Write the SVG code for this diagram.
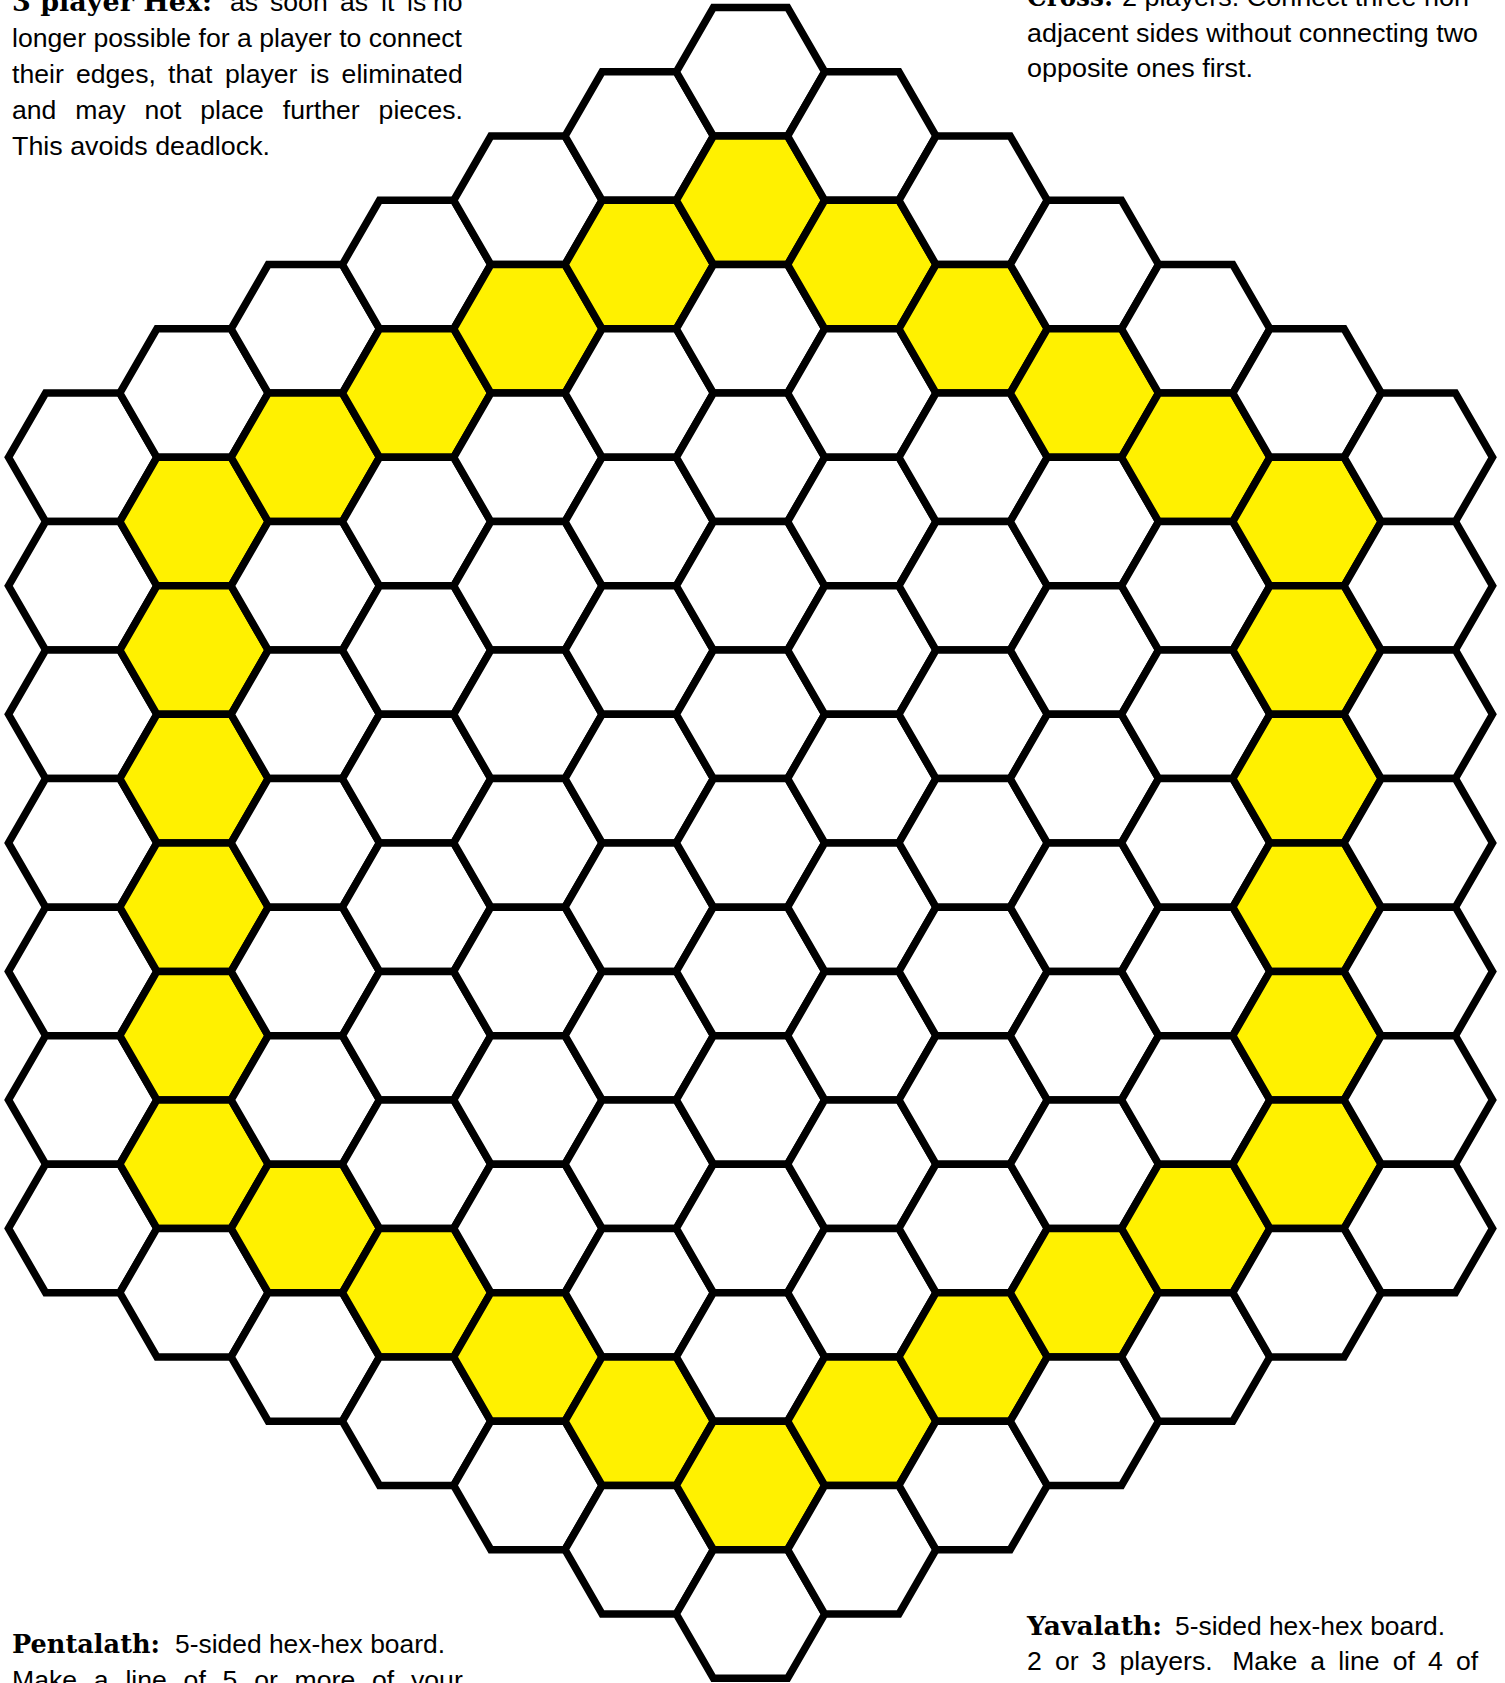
<svg xmlns="http://www.w3.org/2000/svg" xmlns:xlink="http://www.w3.org/1999/xlink" width="1505" height="1683" viewBox="0 0 1505 1683">
<style>
.c{fill:#fff;stroke:#000;stroke-width:7.5;stroke-linejoin:miter}
.y{fill:#fff100}
.t{font-family:"Liberation Sans",Arial,sans-serif;font-size:26.6px;fill:#000}
.b{font-family:"DejaVu Serif",serif;font-weight:bold;font-size:26.6px;fill:#000}
</style>
<defs>
<polygon id="hx" points="-74.2,0 -37.1,-64.26 37.1,-64.26 74.2,0 37.1,64.26 -37.1,64.26"/>
</defs>
<rect width="1505" height="1683" fill="#fff"/>
<g id="board">
<g id="col0" transform="translate(82.7,457.32)">
<use href="#hx" class="c" y="0"/><use href="#hx" class="c" y="128.52"/><use href="#hx" class="c" y="257.04"/><use href="#hx" class="c" y="385.56"/><use href="#hx" class="c" y="514.08"/><use href="#hx" class="c" y="642.6"/><use href="#hx" class="c" y="771.12"/>
</g>
<g id="col1" transform="translate(194,393.06)">
<use href="#hx" class="c" y="0"/><use href="#hx" class="c y" y="128.52"/><use href="#hx" class="c y" y="257.04"/><use href="#hx" class="c y" y="385.56"/><use href="#hx" class="c y" y="514.08"/><use href="#hx" class="c y" y="642.6"/><use href="#hx" class="c y" y="771.12"/><use href="#hx" class="c" y="899.64"/>
</g>
<g id="col2" transform="translate(305.3,328.8)">
<use href="#hx" class="c" y="0"/><use href="#hx" class="c y" y="128.52"/><use href="#hx" class="c" y="257.04"/><use href="#hx" class="c" y="385.56"/><use href="#hx" class="c" y="514.08"/><use href="#hx" class="c" y="642.6"/><use href="#hx" class="c" y="771.12"/><use href="#hx" class="c y" y="899.64"/><use href="#hx" class="c" y="1028.16"/>
</g>
<g id="col3" transform="translate(416.6,264.54)">
<use href="#hx" class="c" y="0"/><use href="#hx" class="c y" y="128.52"/><use href="#hx" class="c" y="257.04"/><use href="#hx" class="c" y="385.56"/><use href="#hx" class="c" y="514.08"/><use href="#hx" class="c" y="642.6"/><use href="#hx" class="c" y="771.12"/><use href="#hx" class="c" y="899.64"/><use href="#hx" class="c y" y="1028.16"/><use href="#hx" class="c" y="1156.68"/>
</g>
<g id="col4" transform="translate(527.9,200.28)">
<use href="#hx" class="c" y="0"/><use href="#hx" class="c y" y="128.52"/><use href="#hx" class="c" y="257.04"/><use href="#hx" class="c" y="385.56"/><use href="#hx" class="c" y="514.08"/><use href="#hx" class="c" y="642.6"/><use href="#hx" class="c" y="771.12"/><use href="#hx" class="c" y="899.64"/><use href="#hx" class="c" y="1028.16"/><use href="#hx" class="c y" y="1156.68"/><use href="#hx" class="c" y="1285.2"/>
</g>
<g id="col5" transform="translate(639.2,136.02)">
<use href="#hx" class="c" y="0"/><use href="#hx" class="c y" y="128.52"/><use href="#hx" class="c" y="257.04"/><use href="#hx" class="c" y="385.56"/><use href="#hx" class="c" y="514.08"/><use href="#hx" class="c" y="642.6"/><use href="#hx" class="c" y="771.12"/><use href="#hx" class="c" y="899.64"/><use href="#hx" class="c" y="1028.16"/><use href="#hx" class="c" y="1156.68"/><use href="#hx" class="c y" y="1285.2"/><use href="#hx" class="c" y="1413.72"/>
</g>
<g id="col6" transform="translate(750.5,71.76)">
<use href="#hx" class="c" y="0"/><use href="#hx" class="c y" y="128.52"/><use href="#hx" class="c" y="257.04"/><use href="#hx" class="c" y="385.56"/><use href="#hx" class="c" y="514.08"/><use href="#hx" class="c" y="642.6"/><use href="#hx" class="c" y="771.12"/><use href="#hx" class="c" y="899.64"/><use href="#hx" class="c" y="1028.16"/><use href="#hx" class="c" y="1156.68"/><use href="#hx" class="c" y="1285.2"/><use href="#hx" class="c y" y="1413.72"/><use href="#hx" class="c" y="1542.24"/>
</g>
<g id="col7" transform="translate(861.8,136.02)">
<use href="#hx" class="c" y="0"/><use href="#hx" class="c y" y="128.52"/><use href="#hx" class="c" y="257.04"/><use href="#hx" class="c" y="385.56"/><use href="#hx" class="c" y="514.08"/><use href="#hx" class="c" y="642.6"/><use href="#hx" class="c" y="771.12"/><use href="#hx" class="c" y="899.64"/><use href="#hx" class="c" y="1028.16"/><use href="#hx" class="c" y="1156.68"/><use href="#hx" class="c y" y="1285.2"/><use href="#hx" class="c" y="1413.72"/>
</g>
<g id="col8" transform="translate(973.1,200.28)">
<use href="#hx" class="c" y="0"/><use href="#hx" class="c y" y="128.52"/><use href="#hx" class="c" y="257.04"/><use href="#hx" class="c" y="385.56"/><use href="#hx" class="c" y="514.08"/><use href="#hx" class="c" y="642.6"/><use href="#hx" class="c" y="771.12"/><use href="#hx" class="c" y="899.64"/><use href="#hx" class="c" y="1028.16"/><use href="#hx" class="c y" y="1156.68"/><use href="#hx" class="c" y="1285.2"/>
</g>
<g id="col9" transform="translate(1084.4,264.54)">
<use href="#hx" class="c" y="0"/><use href="#hx" class="c y" y="128.52"/><use href="#hx" class="c" y="257.04"/><use href="#hx" class="c" y="385.56"/><use href="#hx" class="c" y="514.08"/><use href="#hx" class="c" y="642.6"/><use href="#hx" class="c" y="771.12"/><use href="#hx" class="c" y="899.64"/><use href="#hx" class="c y" y="1028.16"/><use href="#hx" class="c" y="1156.68"/>
</g>
<g id="col10" transform="translate(1195.7,328.8)">
<use href="#hx" class="c" y="0"/><use href="#hx" class="c y" y="128.52"/><use href="#hx" class="c" y="257.04"/><use href="#hx" class="c" y="385.56"/><use href="#hx" class="c" y="514.08"/><use href="#hx" class="c" y="642.6"/><use href="#hx" class="c" y="771.12"/><use href="#hx" class="c y" y="899.64"/><use href="#hx" class="c" y="1028.16"/>
</g>
<g id="col11" transform="translate(1307,393.06)">
<use href="#hx" class="c" y="0"/><use href="#hx" class="c y" y="128.52"/><use href="#hx" class="c y" y="257.04"/><use href="#hx" class="c y" y="385.56"/><use href="#hx" class="c y" y="514.08"/><use href="#hx" class="c y" y="642.6"/><use href="#hx" class="c y" y="771.12"/><use href="#hx" class="c" y="899.64"/>
</g>
<g id="col12" transform="translate(1418.3,457.32)">
<use href="#hx" class="c" y="0"/><use href="#hx" class="c" y="128.52"/><use href="#hx" class="c" y="257.04"/><use href="#hx" class="c" y="385.56"/><use href="#hx" class="c" y="514.08"/><use href="#hx" class="c" y="642.6"/><use href="#hx" class="c" y="771.12"/>
</g>
</g>
<g id="text-hex3">
<text class="b" x="12" y="10.6" textLength="200" lengthAdjust="spacingAndGlyphs">3 player Hex:</text>
<text class="t" y="10.6"><tspan x="230">as</tspan><tspan x="270">soon</tspan><tspan x="340">as</tspan><tspan x="381">it</tspan><tspan x="407">is</tspan><tspan x="433">no</tspan></text>
<text class="t" x="12" y="46.7" textLength="450" lengthAdjust="spacingAndGlyphs">longer possible for a player to connect</text>
<text class="t" y="82.7"><tspan x="12">their</tspan><tspan x="76">edges,</tspan><tspan x="168">that</tspan><tspan x="225">player</tspan><tspan x="310">is</tspan><tspan x="341.6">eliminated</tspan></text>
<text class="t" y="119"><tspan x="12">and</tspan><tspan x="75.3">may</tspan><tspan x="144.4">not</tspan><tspan x="200.3">place</tspan><tspan x="282.8">further</tspan><tspan x="378.6">pieces.</tspan></text>
<text class="t" x="12" y="155" textLength="258" lengthAdjust="spacingAndGlyphs">This avoids deadlock.</text>
</g>
<g id="text-cross">
<text class="b" x="1027" y="6" textLength="86" lengthAdjust="spacingAndGlyphs">Cross:</text>
<text class="t" x="1122" y="6" textLength="356" lengthAdjust="spacingAndGlyphs">2 players.  Connect three non-</text>
<text class="t" x="1027" y="41.7" textLength="451" lengthAdjust="spacingAndGlyphs">adjacent sides without connecting two</text>
<text class="t" x="1027" y="77" textLength="226" lengthAdjust="spacingAndGlyphs">opposite ones first.</text>
</g>
<g id="text-pentalath">
<text class="b" x="12" y="1653" textLength="148" lengthAdjust="spacingAndGlyphs">Pentalath:</text>
<text class="t" x="175" y="1653" textLength="270" lengthAdjust="spacingAndGlyphs">5-sided hex-hex board.</text>
<text class="t" y="1689"><tspan x="12">Make</tspan><tspan x="93.8">a</tspan><tspan x="125.4">line</tspan><tspan x="183.6">of</tspan><tspan x="222.6">5</tspan><tspan x="254.2">or</tspan><tspan x="294.6">more</tspan><tspan x="372">of</tspan><tspan x="411">your</tspan></text>
</g>
<g id="text-yavalath">
<text class="b" x="1027" y="1635" textLength="135" lengthAdjust="spacingAndGlyphs">Yavalath:</text>
<text class="t" x="1175" y="1635" textLength="270" lengthAdjust="spacingAndGlyphs">5-sided hex-hex board.</text>
<text class="t" y="1670"><tspan x="1027">2</tspan><tspan x="1054.9">or</tspan><tspan x="1091.6">3</tspan><tspan x="1119.5">players.</tspan><tspan x="1232.2">Make</tspan><tspan x="1310.3">a</tspan><tspan x="1338.2">line</tspan><tspan x="1392.7">of</tspan><tspan x="1428">4</tspan><tspan x="1455.9">of</tspan></text>
</g>
</svg>
